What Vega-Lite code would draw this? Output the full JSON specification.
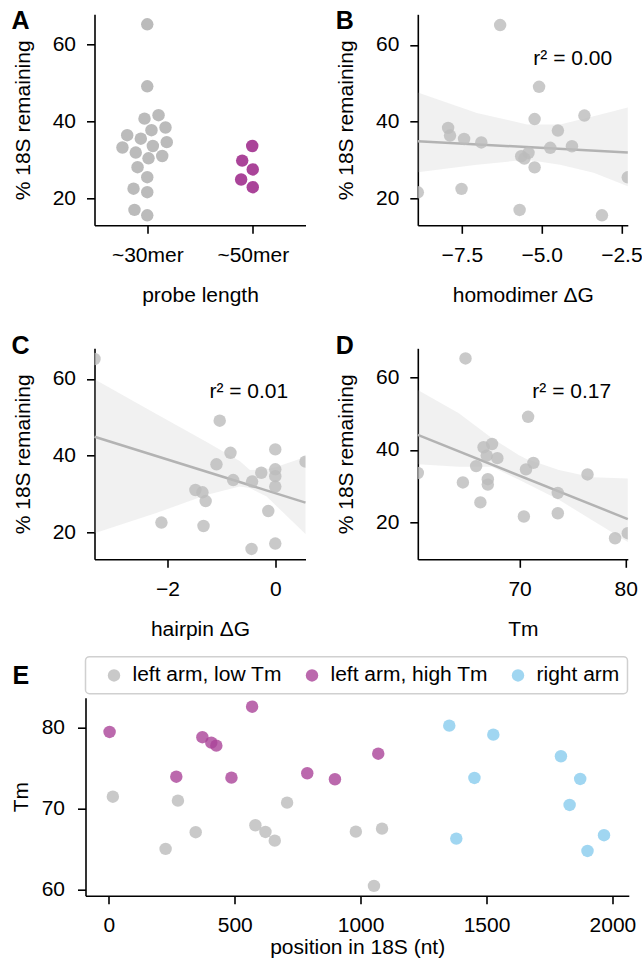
{
  "$schema": "https://vega.github.io/schema/vega-lite/v6.json",
  "background": "white",
  "padding": {"left": 9.5, "top": 8.3, "right": 0, "bottom": 0},
  "datasets": {
    "swarm": [
      {"length": "~30mer", "pos": 0, "remaining": 65.2},
      {"length": "~30mer", "pos": 0, "remaining": 49.1},
      {"length": "~30mer", "pos": -0.026, "remaining": 40.7},
      {"length": "~30mer", "pos": 0.107, "remaining": 41.6},
      {"length": "~30mer", "pos": -0.19, "remaining": 36.4},
      {"length": "~30mer", "pos": 0.04, "remaining": 37.7},
      {"length": "~30mer", "pos": 0.173, "remaining": 38.4},
      {"length": "~30mer", "pos": -0.061, "remaining": 35.5},
      {"length": "~30mer", "pos": -0.235, "remaining": 33.2},
      {"length": "~30mer", "pos": 0.053, "remaining": 33.6},
      {"length": "~30mer", "pos": 0.185, "remaining": 34.6},
      {"length": "~30mer", "pos": -0.109, "remaining": 31.9},
      {"length": "~30mer", "pos": 0.012, "remaining": 30.4},
      {"length": "~30mer", "pos": 0.142, "remaining": 31.0},
      {"length": "~30mer", "pos": -0.092, "remaining": 28.1},
      {"length": "~30mer", "pos": 0, "remaining": 25.5},
      {"length": "~30mer", "pos": -0.13, "remaining": 22.5},
      {"length": "~30mer", "pos": 0, "remaining": 21.6},
      {"length": "~30mer", "pos": -0.121, "remaining": 17.0},
      {"length": "~30mer", "pos": 0, "remaining": 15.6},
      {"length": "~50mer", "pos": 0.995, "remaining": 33.6},
      {"length": "~50mer", "pos": 0.9, "remaining": 29.8},
      {"length": "~50mer", "pos": 1.0, "remaining": 27.5},
      {"length": "~50mer", "pos": 0.89, "remaining": 24.9},
      {"length": "~50mer", "pos": 1.0, "remaining": 22.9}
    ],
    "probes": [
      {"remaining": 65.2, "homodimer": -6.30, "hairpin": -3.35, "Tm": 64.9},
      {"remaining": 49.1, "homodimer": -5.08, "hairpin": -1.03, "Tm": 70.8},
      {"remaining": 41.6, "homodimer": -3.66, "hairpin": 0.0, "Tm": 67.4},
      {"remaining": 40.7, "homodimer": -5.22, "hairpin": -0.83, "Tm": 66.6},
      {"remaining": 38.4, "homodimer": -7.93, "hairpin": 0.56, "Tm": 66.9},
      {"remaining": 37.7, "homodimer": -4.49, "hairpin": -1.09, "Tm": 67.9},
      {"remaining": 36.4, "homodimer": -7.87, "hairpin": 0.0, "Tm": 71.3},
      {"remaining": 35.5, "homodimer": -7.43, "hairpin": -0.26, "Tm": 65.9},
      {"remaining": 34.6, "homodimer": -6.89, "hairpin": 0.0, "Tm": 70.6},
      {"remaining": 33.6, "homodimer": -4.05, "hairpin": -0.78, "Tm": 60.4},
      {"remaining": 33.2, "homodimer": -4.73, "hairpin": -0.43, "Tm": 76.4},
      {"remaining": 31.9, "homodimer": -5.41, "hairpin": 0.0, "Tm": 67.0},
      {"remaining": 31.0, "homodimer": -5.64, "hairpin": -1.48, "Tm": 64.65},
      {"remaining": 30.4, "homodimer": -5.54, "hairpin": -1.35, "Tm": 67.0},
      {"remaining": 28.1, "homodimer": -5.22, "hairpin": -1.29, "Tm": 73.6},
      {"remaining": 25.5, "homodimer": -2.30, "hairpin": -0.13, "Tm": 66.3},
      {"remaining": 22.5, "homodimer": -7.51, "hairpin": -2.11, "Tm": 73.6},
      {"remaining": 21.6, "homodimer": -8.88, "hairpin": -1.33, "Tm": 70.4},
      {"remaining": 17.0, "homodimer": -5.69, "hairpin": 0.0, "Tm": 80.2},
      {"remaining": 15.6, "homodimer": -3.11, "hairpin": -0.44, "Tm": 79.0}
    ],
    "bands": [
      {"panel": "B", "x": -8.88, "lo": 26.8, "hi": 47.6},
      {"panel": "B", "x": -7.03, "lo": 28.8, "hi": 42.3},
      {"panel": "B", "x": -5.46, "lo": 30.1, "hi": 39.3},
      {"panel": "B", "x": -4.42, "lo": 28.8, "hi": 39.3},
      {"panel": "B", "x": -3.37, "lo": 26.7, "hi": 41.4},
      {"panel": "B", "x": -2.30, "lo": 23.2, "hi": 43.7},
      {"panel": "C", "x": -3.35, "lo": 19.7, "hi": 59.9},
      {"panel": "C", "x": -2.22, "lo": 24.9, "hi": 51.0},
      {"panel": "C", "x": -1.28, "lo": 29.7, "hi": 43.6},
      {"panel": "C", "x": -0.66, "lo": 31.9, "hi": 38.6},
      {"panel": "C", "x": -0.47, "lo": 31.5, "hi": 36.2},
      {"panel": "C", "x": -0.16, "lo": 29.3, "hi": 36.5},
      {"panel": "C", "x": 0.03, "lo": 26.7, "hi": 37.1},
      {"panel": "C", "x": 0.56, "lo": 19.5, "hi": 39.6},
      {"panel": "D", "x": 60.4, "lo": 36.0, "hi": 56.5},
      {"panel": "D", "x": 64.27, "lo": 35.3, "hi": 50.1},
      {"panel": "D", "x": 67.4, "lo": 35.3, "hi": 43.2},
      {"panel": "D", "x": 69.9, "lo": 31.8, "hi": 38.6},
      {"panel": "D", "x": 70.6, "lo": 30.8, "hi": 37.5},
      {"panel": "D", "x": 73.7, "lo": 26.2, "hi": 34.4},
      {"panel": "D", "x": 76.85, "lo": 20.6, "hi": 32.4},
      {"panel": "D", "x": 80.2, "lo": 14.6, "hi": 32.1}
    ],
    "fits": [
      {"panel": "B", "x": -8.88, "fit": 34.9},
      {"panel": "B", "x": -2.30, "fit": 32.0},
      {"panel": "C", "x": -3.35, "fit": 44.9},
      {"panel": "C", "x": 0.56, "fit": 27.7},
      {"panel": "D", "x": 60.4, "fit": 44.1},
      {"panel": "D", "x": 80.2, "fit": 20.9}
    ],
    "annot": [
      {"panel": "B", "x": -5.26, "y": 54.9, "label": "r² = 0.00"},
      {"panel": "C", "x": -1.22, "y": 55.0, "label": "r² = 0.01"},
      {"panel": "D", "x": 71.2, "y": 54.2, "label": "r² = 0.17"}
    ],
    "arms": [
      {"group": "left arm, low Tm", "position": 16, "Tm": 71.43},
      {"group": "left arm, low Tm", "position": 274.5, "Tm": 70.94},
      {"group": "left arm, low Tm", "position": 225.5, "Tm": 64.98},
      {"group": "left arm, low Tm", "position": 345, "Tm": 67.04},
      {"group": "left arm, low Tm", "position": 582, "Tm": 67.9},
      {"group": "left arm, low Tm", "position": 622, "Tm": 67.07},
      {"group": "left arm, low Tm", "position": 659, "Tm": 66.0},
      {"group": "left arm, low Tm", "position": 708, "Tm": 70.69},
      {"group": "left arm, low Tm", "position": 981, "Tm": 67.11},
      {"group": "left arm, low Tm", "position": 1085, "Tm": 67.48},
      {"group": "left arm, low Tm", "position": 1053, "Tm": 60.41},
      {"group": "left arm, high Tm", "position": 3, "Tm": 79.42},
      {"group": "left arm, high Tm", "position": 569, "Tm": 82.54},
      {"group": "left arm, high Tm", "position": 371.5, "Tm": 78.77},
      {"group": "left arm, high Tm", "position": 407, "Tm": 78.1},
      {"group": "left arm, high Tm", "position": 427, "Tm": 77.73},
      {"group": "left arm, high Tm", "position": 268, "Tm": 73.9},
      {"group": "left arm, high Tm", "position": 487, "Tm": 73.78},
      {"group": "left arm, high Tm", "position": 788, "Tm": 74.32},
      {"group": "left arm, high Tm", "position": 898, "Tm": 73.58},
      {"group": "left arm, high Tm", "position": 1070, "Tm": 76.74},
      {"group": "right arm", "position": 1352, "Tm": 80.2},
      {"group": "right arm", "position": 1527, "Tm": 79.09},
      {"group": "right arm", "position": 1795.5, "Tm": 76.42},
      {"group": "right arm", "position": 1452, "Tm": 73.74},
      {"group": "right arm", "position": 1872, "Tm": 73.62},
      {"group": "right arm", "position": 1830, "Tm": 70.41},
      {"group": "right arm", "position": 1380, "Tm": 66.25},
      {"group": "right arm", "position": 1966.5, "Tm": 66.67},
      {"group": "right arm", "position": 1901, "Tm": 64.73}
    ]
  },
  "vconcat": [
    {
      "vconcat": [
        {
          "hconcat": [
            {
              "width": 211, "height": 211,
              "title": {"text": "A", "dx": -83, "dy": 23.3},
              "data": {"name": "swarm"},
              "mark": {"type": "circle", "size": 155, "opacity": 1},
              "encoding": {
                "x": {"field": "pos", "type": "quantitative", "scale": {"domain": [-0.5, 1.5], "nice": false, "zero": false},
                      "axis": {"values": [0, 1], "labelExpr": "datum.value == 0 ? '~30mer' : '~50mer'", "title": "probe length"}},
                "y": {"field": "remaining", "type": "quantitative", "scale": {"domain": [13, 67.8], "nice": false, "zero": false},
                      "axis": {"values": [20, 40, 60], "title": "% 18S remaining"}},
                "color": {"field": "length", "type": "nominal", "scale": {"domain": ["~30mer", "~50mer"], "range": ["#bbbbbb", "#aa4499"]}, "legend": null}
              }
            },
            {
              "width": 210, "height": 211,
              "title": {"text": "B", "dx": -82, "dy": 23.3},
              "layer": [
                {
                  "data": {"name": "bands"},
                  "transform": [{"filter": "datum.panel == 'B'"}],
                  "mark": {"type": "area", "color": "#bbbbbb", "opacity": 0.2},
                  "encoding": {
                    "x": {"field": "x", "type": "quantitative", "scale": {"domain": [-8.88, -2.3], "nice": false, "zero": false},
                          "axis": {"values": [-7.5, -5, -2.5], "format": ".1f", "title": "homodimer ΔG"}},
                    "y": {"field": "lo", "type": "quantitative", "scale": {"domain": [13, 68], "nice": false, "zero": false},
                          "axis": {"values": [20, 40, 60], "title": "% 18S remaining"}},
                    "y2": {"field": "hi"}
                  }
                },
                {
                  "data": {"name": "fits"},
                  "transform": [{"filter": "datum.panel == 'B'"}],
                  "mark": {"type": "line", "color": "#b3b3b3", "strokeWidth": 2.5},
                  "encoding": {"x": {"field": "x", "type": "quantitative"}, "y": {"field": "fit", "type": "quantitative"}}
                },
                {
                  "data": {"name": "probes"},
                  "mark": {"type": "circle", "size": 155, "color": "#bbbbbb", "opacity": 0.8, "clip": true},
                  "encoding": {"x": {"field": "homodimer", "type": "quantitative"}, "y": {"field": "remaining", "type": "quantitative"}}
                },
                {
                  "data": {"name": "annot"},
                  "transform": [{"filter": "datum.panel == 'B'"}],
                  "mark": {"type": "text", "align": "left", "baseline": "alphabetic", "fontSize": 21, "color": "black"},
                  "encoding": {"x": {"field": "x", "type": "quantitative"}, "y": {"field": "y", "type": "quantitative"}, "text": {"field": "label"}}
                }
              ]
            }
          ],
          "spacing": 112.3,
          "bounds": "flush"
        },
        {
          "hconcat": [
            {
              "width": 211, "height": 211,
              "title": {"text": "C", "dx": -83, "dy": 15.1},
              "layer": [
                {
                  "data": {"name": "bands"},
                  "transform": [{"filter": "datum.panel == 'C'"}],
                  "mark": {"type": "area", "color": "#bbbbbb", "opacity": 0.2},
                  "encoding": {
                    "x": {"field": "x", "type": "quantitative", "scale": {"domain": [-3.35, 0.56], "nice": false, "zero": false},
                          "axis": {"values": [-2, 0], "format": "d", "title": "hairpin ΔG"}},
                    "y": {"field": "lo", "type": "quantitative", "scale": {"domain": [12.9, 68], "nice": false, "zero": false},
                          "axis": {"values": [20, 40, 60], "title": "% 18S remaining"}},
                    "y2": {"field": "hi"}
                  }
                },
                {
                  "data": {"name": "fits"},
                  "transform": [{"filter": "datum.panel == 'C'"}],
                  "mark": {"type": "line", "color": "#b3b3b3", "strokeWidth": 2.5},
                  "encoding": {"x": {"field": "x", "type": "quantitative"}, "y": {"field": "fit", "type": "quantitative"}}
                },
                {
                  "data": {"name": "probes"},
                  "mark": {"type": "circle", "size": 155, "color": "#bbbbbb", "opacity": 0.8, "clip": true},
                  "encoding": {"x": {"field": "hairpin", "type": "quantitative"}, "y": {"field": "remaining", "type": "quantitative"}}
                },
                {
                  "data": {"name": "annot"},
                  "transform": [{"filter": "datum.panel == 'C'"}],
                  "mark": {"type": "text", "align": "left", "baseline": "alphabetic", "fontSize": 21, "color": "black"},
                  "encoding": {"x": {"field": "x", "type": "quantitative"}, "y": {"field": "y", "type": "quantitative"}, "text": {"field": "label"}}
                }
              ]
            },
            {
              "width": 210, "height": 211,
              "title": {"text": "D", "dx": -82, "dy": 15.1},
              "layer": [
                {
                  "data": {"name": "bands"},
                  "transform": [{"filter": "datum.panel == 'D'"}],
                  "mark": {"type": "area", "color": "#bbbbbb", "opacity": 0.2},
                  "encoding": {
                    "x": {"field": "x", "type": "quantitative", "scale": {"domain": [60.4, 80.2], "nice": false, "zero": false},
                          "axis": {"values": [70, 80], "format": "d", "title": "Tm"}},
                    "y": {"field": "lo", "type": "quantitative", "scale": {"domain": [9.8, 68], "nice": false, "zero": false},
                          "axis": {"values": [20, 40, 60], "title": "% 18S remaining"}},
                    "y2": {"field": "hi"}
                  }
                },
                {
                  "data": {"name": "fits"},
                  "transform": [{"filter": "datum.panel == 'D'"}],
                  "mark": {"type": "line", "color": "#b3b3b3", "strokeWidth": 2.5},
                  "encoding": {"x": {"field": "x", "type": "quantitative"}, "y": {"field": "fit", "type": "quantitative"}}
                },
                {
                  "data": {"name": "probes"},
                  "mark": {"type": "circle", "size": 155, "color": "#bbbbbb", "opacity": 0.8, "clip": true},
                  "encoding": {"x": {"field": "Tm", "type": "quantitative"}, "y": {"field": "remaining", "type": "quantitative"}}
                },
                {
                  "data": {"name": "annot"},
                  "transform": [{"filter": "datum.panel == 'D'"}],
                  "mark": {"type": "text", "align": "left", "baseline": "alphabetic", "fontSize": 21, "color": "black"},
                  "encoding": {"x": {"field": "x", "type": "quantitative"}, "y": {"field": "y", "type": "quantitative"}, "text": {"field": "label"}}
                }
              ]
            }
          ],
          "spacing": 112.3,
          "bounds": "flush"
        }
      ],
      "spacing": 29
    },
    {
      "width": 534.3, "height": 243,
      "title": {"text": "E", "dx": -82, "dy": 40.3},
      "data": {"name": "arms"},
      "mark": {"type": "circle", "size": 155, "opacity": 0.8},
      "encoding": {
        "x": {"field": "position", "type": "quantitative", "scale": {"domain": [-92.6, 2065], "range": [-9, 534.3], "nice": false, "zero": false},
              "axis": {"values": [0, 500, 1000, 1500, 2000], "format": "d", "title": "position in 18S (nt)", "titlePadding": 1}},
        "y": {"field": "Tm", "type": "quantitative", "scale": {"domain": [59.2, 83.65], "range": [243, 45], "nice": false, "zero": false},
              "axis": {"values": [60, 70, 80], "format": "d", "title": "Tm", "offset": 9, "labelPadding": 13, "titlePadding": 10}},
        "color": {"field": "group", "type": "nominal",
                  "scale": {"domain": ["left arm, low Tm", "left arm, high Tm", "right arm"], "range": ["#bbbbbb", "#aa4499", "#88ccee"]},
                  "legend": {"orient": "none", "legendX": -9, "legendY": 4, "direction": "horizontal",
                             "title": " ", "titleOrient": "left", "titlePadding": 10, "titleFontSize": 21, "titleFont": "Liberation Sans",
                             "fillColor": "white", "strokeColor": "#d0d0d0", "cornerRadius": 4,
                             "padding": 8, "columnPadding": 19, "labelOffset": 8, "symbolSize": 155, "symbolType": "circle",
                             "symbolOpacity": 0.8, "symbolStrokeWidth": 0, "labelFontSize": 21, "labelLimit": 300, "labelColor": "black",
                             "labelFont": "Liberation Sans"}}
      }
    }
  ],
  "spacing": 13.4,
  "resolve": {"scale": {"color": "independent"}, "legend": {"color": "independent"}},
  "config": {
    "font": "Liberation Sans",
    "view": {"stroke": null},
    "legend": {"strokeWidth": 1.5},
    "axis": {
      "domainColor": "black", "domainWidth": 1.6, "tickColor": "black", "tickWidth": 1.6, "tickSize": 8,
      "labelFontSize": 21, "titleFontSize": 21, "titleFontWeight": "normal", "labelColor": "black", "titleColor": "black",
      "labelFont": "Liberation Sans", "titleFont": "Liberation Sans",
      "grid": false, "labelPadding": 11, "titlePadding": 19, "labelFlush": false, "labelOverlap": false, "labelAngle": 0
    },
    "title": {"fontSize": 25, "fontWeight": "bold", "anchor": "start", "frame": "group", "offset": 0, "baseline": "alphabetic", "color": "black", "font": "Liberation Sans"}
  }
}
